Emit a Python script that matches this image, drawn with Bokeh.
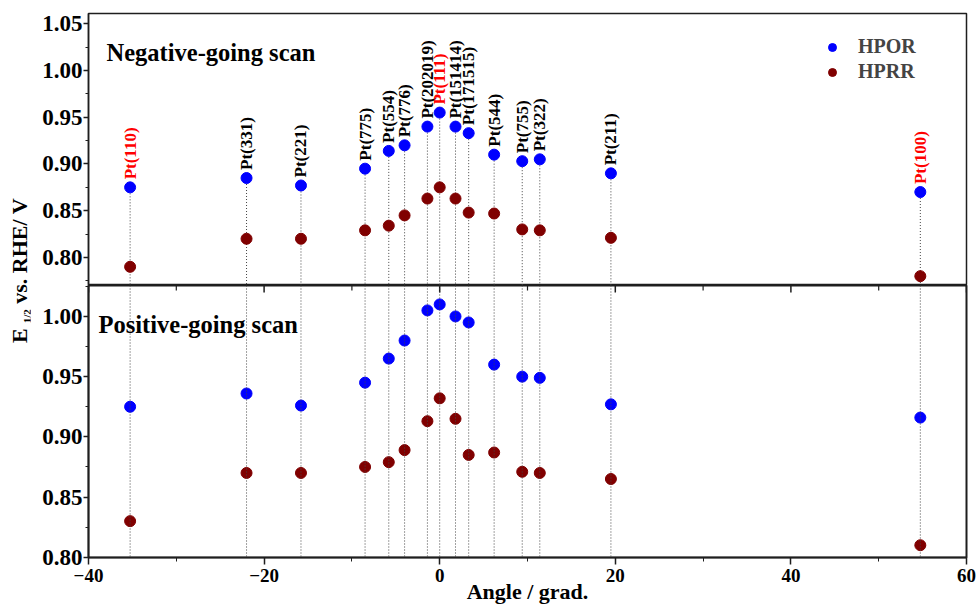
from math import pi
from bokeh.plotting import figure
from bokeh.models import (Range1d, SingleIntervalTicker, PrintfTickFormatter,
                          Label, Span, Legend, LegendItem, ColumnDataSource, Div)
from bokeh.layouts import row, column
from bokeh.core.properties import value
from bokeh.embed import file_html
from bokeh.resources import INLINE

# ---------------- data ----------------
angle = [-35.26, -22.0, -15.8, -8.5, -5.8, -4.0, -1.4, 0.0, 1.8, 3.3, 6.2, 9.4, 11.4, 19.5, 54.74]
facet = ["Pt(110)", "Pt(331)", "Pt(221)", "Pt(775)", "Pt(554)", "Pt(776)", "Pt(202019)",
         "Pt(111)", "Pt(151414)", "Pt(171515)", "Pt(544)", "Pt(755)", "Pt(322)", "Pt(211)", "Pt(100)"]
basal = ["Pt(110)", "Pt(111)", "Pt(100)"]

hpor_neg = [0.875, 0.885, 0.877, 0.895, 0.914, 0.920, 0.940, 0.955, 0.940, 0.933, 0.910, 0.903, 0.905, 0.890, 0.870]
hprr_neg = [0.790, 0.820, 0.820, 0.829, 0.834, 0.845, 0.863, 0.875, 0.863, 0.848, 0.847, 0.830, 0.829, 0.821, 0.780]
hpor_pos = [0.925, 0.936, 0.926, 0.945, 0.965, 0.980, 1.005, 1.010, 1.000, 0.995, 0.960, 0.950, 0.949, 0.927, 0.916]
hprr_pos = [0.830, 0.870, 0.870, 0.875, 0.879, 0.889, 0.913, 0.932, 0.915, 0.885, 0.887, 0.871, 0.870, 0.865, 0.810]

series_names = ["HPOR", "HPRR"]
panel_titles = ["Negative-going scan", "Positive-going scan"]
x_label = "Angle / grad."
x_major_ticks = [-40, -20, 0, 20, 40, 60]
x_minor_ticks = [-30, -10, 10, 30, 50]

# ---------------- style ----------------
FONT = "Liberation Serif"
BLUE = "#0000ff"
BROWN = "#800000"
AXC = "#1e1e1e"
GUIDE = "#444444"

label_colors = ["#ff0000" if f in basal else "#000000" for f in facet]
src = ColumnDataSource(dict(angle=angle, facet=facet, col=label_colors,
                            hpor_neg=hpor_neg, hprr_neg=hprr_neg,
                            hpor_pos=hpor_pos, hprr_pos=hprr_pos))

XR = Range1d(-40, 60)
TOP_Y = (0.770, 1.061)
BOT_Y = (0.7998, 1.0257)


def style_y(ax):
    ax.ticker = SingleIntervalTicker(interval=0.05, num_minor_ticks=2)
    ax.formatter = PrintfTickFormatter(format="%.2f")
    ax.major_label_text_font = FONT
    ax.major_label_text_font_style = "bold"
    ax.major_label_text_font_size = "23px"
    ax.major_label_text_color = "#000000"
    ax.major_tick_in = 0
    ax.major_tick_out = 5
    ax.minor_tick_in = 0
    ax.minor_tick_out = 3
    ax.major_label_standoff = 1
    ax.axis_line_color = AXC
    ax.axis_line_width = 1.5
    ax.major_tick_line_color = AXC
    ax.minor_tick_line_color = AXC
    ax.major_tick_line_width = 1.5
    ax.minor_tick_line_width = 1.2


# ---------------- top panel ----------------
top = figure(width=946, height=285, x_range=XR, y_range=Range1d(*TOP_Y), title=None,
             output_backend="svg", toolbar_location=None, x_axis_location=None,
             min_border_left=58, min_border_right=10, min_border_top=13, min_border_bottom=0)
top.grid.visible = False
top.outline_line_color = AXC
top.outline_line_width = 1.5
style_y(top.yaxis[0])

top.segment(x0="angle", y0="hpor_neg", x1="angle", y1=TOP_Y[0], source=src,
            line_color=GUIDE, line_dash="1 2", line_width=1)
r_prr = top.scatter("angle", "hprr_neg", source=src, size=11, fill_color=BROWN, line_color=BROWN)
r_por = top.scatter("angle", "hpor_neg", source=src, size=11, fill_color=BLUE, line_color=BLUE)
top.text(x="angle", y="hpor_neg", text="facet", source=src, angle=pi / 2,
         text_color="col", text_font=value(FONT), text_font_style="bold",
         text_font_size="17px", text_align="left", text_baseline="middle", y_offset=-8)

top.add_layout(Label(x=18, y=233, x_units="screen", y_units="screen", text=panel_titles[0],
                     text_font=FONT, text_font_style="bold", text_font_size="24.5px",
                     text_baseline="alphabetic", text_color="#000000"))

legend = Legend(items=[LegendItem(label=series_names[0], renderers=[r_por]),
                       LegendItem(label=series_names[1], renderers=[r_prr])],
                location=(734, 202), padding=0, margin=0, spacing=2,
                glyph_width=20, glyph_height=20, label_height=20, label_standoff=16,
                label_text_font=FONT, label_text_font_style="bold", label_text_font_size="20px",
                label_text_baseline="middle",
                border_line_color=None, background_fill_alpha=0)
top.add_layout(legend, "center")

# ---------------- bottom panel ----------------
bot = figure(width=946, height=322, x_range=XR, y_range=Range1d(*BOT_Y), title=None,
             output_backend="svg", toolbar_location=None,
             min_border_left=58, min_border_right=10, min_border_top=0, min_border_bottom=50)
bot.grid.visible = False
bot.outline_line_color = AXC
bot.outline_line_width = 2
style_y(bot.yaxis[0])

xa = bot.xaxis[0]
xa.ticker = SingleIntervalTicker(interval=20, num_minor_ticks=2)
xa.major_label_text_font = FONT
xa.major_label_text_font_style = "bold"
xa.major_label_text_font_size = "19px"
xa.major_label_text_color = "#000000"
xa.major_tick_in = 0
xa.major_tick_out = 7
xa.minor_tick_in = 0
xa.minor_tick_out = 4
xa.major_label_standoff = 4
xa.axis_line_color = AXC
xa.axis_line_width = 1.5
xa.major_tick_line_color = AXC
xa.minor_tick_line_color = AXC
xa.major_tick_line_width = 1.5
xa.axis_label = x_label
xa.axis_label_text_font = FONT
xa.axis_label_text_font_style = "bold"
xa.axis_label_text_font_size = "22px"
xa.axis_label_text_color = "#000000"
xa.axis_label_standoff = -6

# ticks on the shared divider, pointing down into the lower panel
bot.ray(x=x_major_ticks, y=BOT_Y[1], length=7, length_units="screen", angle=-pi / 2,
        line_color=AXC, line_width=1.5)
bot.ray(x=x_minor_ticks, y=BOT_Y[1], length=5, length_units="screen", angle=-pi / 2,
        line_color=AXC, line_width=1.2)

for a in angle:
    bot.add_layout(Span(location=a, dimension="height", line_color=GUIDE,
                        line_dash="1 2", line_width=1))
bot.scatter("angle", "hprr_pos", source=src, size=11, fill_color=BROWN, line_color=BROWN)
bot.scatter("angle", "hpor_pos", source=src, size=11, fill_color=BLUE, line_color=BLUE)

bot.add_layout(Label(x=10, y=233, x_units="screen", y_units="screen", text=panel_titles[1],
                     text_font=FONT, text_font_style="bold", text_font_size="24.5px",
                     text_baseline="alphabetic", text_color="#000000"))

# ---------------- y-axis title ----------------
ylab_html = (
    '<div style="position:relative;width:30px;height:607px;">'
    '<div style="position:absolute;left:9px;top:343px;transform:rotate(-90deg);'
    'transform-origin:0 0;white-space:nowrap;font-family:\'Liberation Serif\',serif;'
    'font-weight:bold;font-size:22px;line-height:22px;color:#000;">'
    'E<span style="font-size:11px;position:relative;top:4px;margin-left:5px;">1/2</span>'
    ' vs. RHE/ V</div></div>'
)
ylab = Div(text=ylab_html, width=30, height=607, margin=0)

layout = row(ylab, column(top, bot))
open("out.html", "w").write(file_html(layout, INLINE))
